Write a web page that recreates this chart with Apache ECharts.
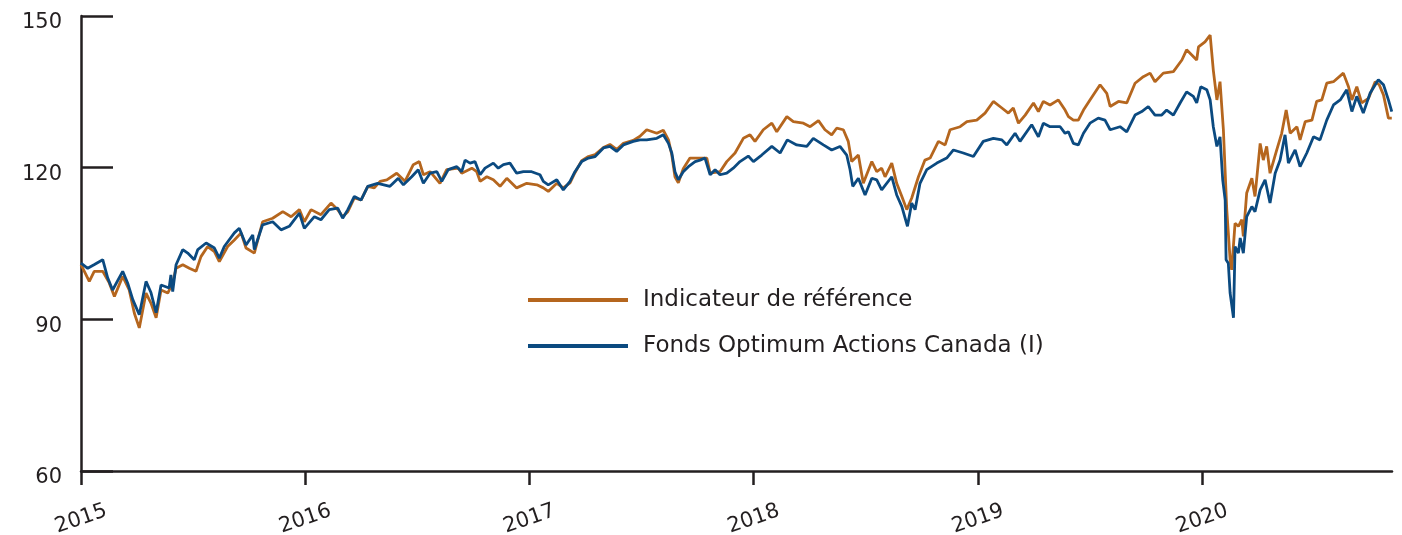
<!DOCTYPE html>
<html>
<head>
<meta charset="utf-8">
<script src="https://cdn.jsdelivr.net/npm/echarts@6/dist/echarts.min.js"></script>
<style>
  html, body { margin: 0; padding: 0; background: #fff; }
  #chart { width: 1402px; height: 535px; }
</style>
</head>
<body>
<div id="chart"></div>
<script>
// valeurs (x en années décimales)
var yearTicks = [2015, 2016, 2017, 2018, 2019, 2020]
var yTicks = [60, 90, 120, 150]

var fondsT = [2015.000, 2015.030, 2015.058, 2015.097, 2015.119, 2015.141, 2015.186, 2015.208, 2015.231, 2015.260,
  2015.290, 2015.312, 2015.335, 2015.357, 2015.393, 2015.401, 2015.409, 2015.424, 2015.454, 2015.476,
  2015.505, 2015.521, 2015.558, 2015.595, 2015.617, 2015.639, 2015.684, 2015.706, 2015.736, 2015.766,
  2015.773, 2015.810, 2015.855, 2015.892, 2015.929, 2015.974, 2015.996, 2016.041, 2016.070, 2016.107,
  2016.145, 2016.167, 2016.190, 2016.219, 2016.249, 2016.279, 2016.323, 2016.378, 2016.415, 2016.438,
  2016.475, 2016.504, 2016.527, 2016.557, 2016.587, 2016.609, 2016.638, 2016.676, 2016.698, 2016.713,
  2016.735, 2016.757, 2016.780, 2016.802, 2016.839, 2016.861, 2016.884, 2016.913, 2016.943, 2016.973,
  2017.010, 2017.047, 2017.062, 2017.084, 2017.122, 2017.151, 2017.181, 2017.203, 2017.233, 2017.263,
  2017.293, 2017.330, 2017.359, 2017.389, 2017.419, 2017.463, 2017.493, 2017.523, 2017.568, 2017.597,
  2017.620, 2017.635, 2017.649, 2017.664, 2017.686, 2017.709, 2017.739, 2017.761, 2017.783, 2017.806,
  2017.828, 2017.850, 2017.880, 2017.909, 2017.939, 2017.976, 2017.999, 2018.036, 2018.081, 2018.118,
  2018.150, 2018.192, 2018.237, 2018.266, 2018.311, 2018.348, 2018.385, 2018.415, 2018.430, 2018.442,
  2018.467, 2018.497, 2018.527, 2018.549, 2018.571, 2018.616, 2018.638, 2018.661, 2018.686, 2018.705,
  2018.720, 2018.742, 2018.772, 2018.817, 2018.861, 2018.891, 2018.935, 2018.980, 2019.024, 2019.069,
  2019.107, 2019.129, 2019.166, 2019.188, 2019.240, 2019.270, 2019.292, 2019.322, 2019.367, 2019.389,
  2019.404, 2019.426, 2019.448, 2019.471, 2019.500, 2019.537, 2019.567, 2019.590, 2019.634, 2019.664,
  2019.701, 2019.731, 2019.760, 2019.790, 2019.820, 2019.842, 2019.872, 2019.902, 2019.931, 2019.961,
  2019.976, 2019.994, 2020.021, 2020.036, 2020.050, 2020.066, 2020.080, 2020.092, 2020.103, 2020.107,
  2020.117, 2020.125, 2020.140, 2020.147, 2020.162, 2020.170, 2020.184, 2020.199, 2020.222, 2020.236,
  2020.259, 2020.281, 2020.303, 2020.326, 2020.348, 2020.370, 2020.385, 2020.415, 2020.437, 2020.467,
  2020.497, 2020.526, 2020.556, 2020.586, 2020.616, 2020.645, 2020.668, 2020.690, 2020.719, 2020.749,
  2020.786, 2020.809, 2020.831, 2020.846]
var fondsV = [101.1, 100.1, 100.8, 101.8, 98.2, 95.8, 99.5, 97.2, 93.9, 90.9,
  97.5, 95.3, 91.3, 96.8, 96.2, 98.8, 95.5, 100.8, 103.8, 103.1,
  101.8, 103.8, 105.1, 104.1, 102.1, 104.4, 107.1, 108.0, 104.7, 106.7,
  103.8, 108.7, 109.3, 107.7, 108.4, 111.0, 108.0, 110.3, 109.7, 111.7,
  112.0, 110.0, 111.7, 114.3, 113.6, 116.3, 116.9, 116.3, 117.9, 116.6,
  118.2, 119.6, 116.9, 118.9, 119.2, 117.3, 119.6, 120.2, 119.2, 121.5,
  120.9, 121.2, 118.6, 119.9, 120.9, 119.9, 120.6, 120.9, 118.9, 119.2,
  119.2, 118.6, 117.3, 116.6, 117.6, 115.6, 117.3, 119.2, 121.2, 121.9,
  122.2, 123.9, 124.2, 123.2, 124.5, 125.2, 125.5, 125.5, 125.8, 126.5,
  124.8, 122.9, 119.2, 117.6, 119.2, 120.2, 121.2, 121.5, 121.9, 118.6,
  119.6, 118.6, 118.9, 119.9, 121.2, 122.3, 121.2, 122.5, 124.2, 122.9,
  125.5, 124.5, 124.2, 125.8, 124.5, 123.5, 124.2, 122.5, 119.6, 116.3,
  117.9, 114.6, 117.9, 117.6, 115.6, 118.2, 114.6, 112.3, 108.4, 113.0,
  111.7, 116.9, 119.6, 120.9, 121.9, 123.5, 122.9, 122.2, 125.2, 125.8,
  125.5, 124.5, 126.8, 125.2, 128.5, 126.1, 128.8, 128.1, 128.1, 126.8,
  127.1, 124.8, 124.5, 126.8, 128.8, 129.8, 129.4, 127.5, 128.1, 127.1,
  130.4, 131.1, 132.1, 130.4, 130.4, 131.4, 130.4, 132.8, 135.0, 134.1,
  132.8, 136.0, 135.4, 133.4, 128.1, 124.2, 126.1, 117.6, 113.6, 101.8,
  101.1, 95.2, 90.3, 104.4, 103.1, 106.1, 103.1, 110.3, 112.3, 111.3,
  115.6, 117.6, 113.0, 118.9, 121.5, 126.5, 120.9, 123.5, 120.2, 122.9,
  126.1, 125.5, 129.4, 132.4, 133.4, 135.4, 131.1, 134.1, 130.8, 134.7,
  137.4, 136.4, 133.4, 131.1]

var indiceT = [2015.000, 2015.037, 2015.059, 2015.097, 2015.126, 2015.149, 2015.186, 2015.215, 2015.238, 2015.260,
  2015.290, 2015.312, 2015.335, 2015.357, 2015.387, 2015.409, 2015.424, 2015.454, 2015.483, 2015.513,
  2015.535, 2015.565, 2015.595, 2015.617, 2015.654, 2015.684, 2015.714, 2015.736, 2015.773, 2015.810,
  2015.855, 2015.900, 2015.937, 2015.974, 2015.996, 2016.026, 2016.070, 2016.115, 2016.145, 2016.167,
  2016.190, 2016.219, 2016.249, 2016.279, 2016.308, 2016.334, 2016.364, 2016.408, 2016.445, 2016.482,
  2016.509, 2016.527, 2016.557, 2016.601, 2016.631, 2016.683, 2016.698, 2016.743, 2016.765, 2016.780,
  2016.810, 2016.839, 2016.869, 2016.899, 2016.943, 2016.988, 2017.033, 2017.062, 2017.084, 2017.122,
  2017.151, 2017.181, 2017.203, 2017.233, 2017.263, 2017.293, 2017.330, 2017.359, 2017.389, 2017.419,
  2017.463, 2017.493, 2017.523, 2017.568, 2017.597, 2017.620, 2017.635, 2017.649, 2017.664, 2017.686,
  2017.716, 2017.761, 2017.791, 2017.806, 2017.850, 2017.880, 2017.917, 2017.954, 2017.984, 2018.006,
  2018.043, 2018.081, 2018.103, 2018.148, 2018.177, 2018.222, 2018.252, 2018.289, 2018.318, 2018.348,
  2018.370, 2018.400, 2018.422, 2018.437, 2018.467, 2018.489, 2018.527, 2018.549, 2018.571, 2018.586,
  2018.616, 2018.638, 2018.661, 2018.683, 2018.705, 2018.735, 2018.764, 2018.787, 2018.824, 2018.854,
  2018.876, 2018.921, 2018.951, 2018.995, 2019.032, 2019.069, 2019.107, 2019.136, 2019.158, 2019.181,
  2019.211, 2019.248, 2019.270, 2019.292, 2019.322, 2019.359, 2019.389, 2019.404, 2019.426, 2019.448,
  2019.471, 2019.500, 2019.545, 2019.575, 2019.590, 2019.627, 2019.664, 2019.701, 2019.738, 2019.768,
  2019.790, 2019.827, 2019.872, 2019.910, 2019.931, 2019.954, 2019.976, 2019.984, 2020.013, 2020.036,
  2020.050, 2020.066, 2020.080, 2020.095, 2020.110, 2020.125, 2020.132, 2020.147, 2020.162, 2020.177,
  2020.184, 2020.199, 2020.222, 2020.236, 2020.259, 2020.273, 2020.288, 2020.303, 2020.333, 2020.355,
  2020.375, 2020.393, 2020.423, 2020.437, 2020.460, 2020.490, 2020.511, 2020.534, 2020.556, 2020.586,
  2020.630, 2020.653, 2020.668, 2020.690, 2020.712, 2020.742, 2020.772, 2020.790, 2020.809, 2020.831,
  2020.846]
var indiceV = [100.8, 97.5, 99.5, 99.5, 97.2, 94.5, 98.5, 95.8, 91.2, 88.3,
  95.2, 93.2, 90.3, 95.8, 95.2, 97.2, 100.1, 100.8, 100.1, 99.5,
  102.4, 104.4, 103.4, 101.4, 104.4, 105.7, 107.1, 104.1, 103.1, 109.3,
  110.0, 111.3, 110.3, 111.7, 109.3, 111.7, 110.7, 113.0, 111.7, 110.3,
  111.3, 114.0, 113.6, 116.3, 116.0, 117.3, 117.6, 118.9, 117.3, 120.6,
  121.2, 118.6, 119.2, 116.9, 119.6, 119.9, 118.9, 119.9, 119.2, 117.3,
  118.2, 117.6, 116.3, 117.9, 116.0, 116.9, 116.6, 116.0, 115.3, 116.9,
  116.0, 117.0, 119.0, 121.4, 122.2, 122.6, 124.0, 124.6, 123.6, 124.8,
  125.4, 126.2, 127.5, 126.8, 127.4, 125.5, 122.5, 118.2, 117.0, 119.8,
  121.9, 121.9, 121.9, 118.9, 119.2, 121.2, 122.9, 125.8, 126.5, 125.2,
  127.5, 128.8, 127.1, 130.1, 129.1, 128.8, 128.1, 129.3, 127.5, 126.5,
  127.8, 127.5, 125.2, 121.2, 122.5, 116.9, 121.2, 119.2, 119.9, 118.2,
  120.9, 116.9, 114.3, 111.7, 114.0, 118.2, 121.5, 121.9, 125.2, 124.5,
  127.5, 128.1, 129.1, 129.4, 130.8, 133.1, 131.8, 130.8, 131.8, 128.8,
  130.4, 132.8, 131.1, 133.1, 132.4, 133.4, 131.4, 130.1, 129.4, 129.4,
  131.4, 133.4, 136.4, 134.7, 132.1, 133.1, 132.8, 136.7, 138.0, 138.7,
  137.0, 138.7, 139.0, 141.3, 143.3, 142.3, 141.3, 143.9, 144.9, 146.2,
  139.3, 133.4, 137.0, 127.5, 111.7, 101.8, 99.8, 109.0, 108.4, 109.7,
  106.4, 115.0, 117.9, 114.3, 124.8, 121.5, 124.2, 118.9, 123.5, 126.8,
  131.4, 126.8, 128.1, 125.5, 129.1, 129.4, 133.1, 133.4, 136.7, 137.0,
  138.7, 136.0, 133.4, 136.0, 132.8, 133.7, 137.0, 136.4, 134.4, 129.8,
  129.8]

var nomIndice = 'Indicateur de référence'
var nomFonds = 'Fonds Optimum Actions Canada (I)'

function pairs(t, v) {
  var out = []
  for (var i = 0; i < t.length; i++) out.push([t[i], v[i]])
  return out
}

var ink = '#231f20'
var font = 'DejaVu Sans'

var myChart = echarts.init(document.getElementById('chart'))
myChart.setOption({
  animation: false,
  backgroundColor: '#fff',
  grid: { left: 81, right: 10, top: 16, bottom: 64, containLabel: false, outerBoundsMode: 'none' },
  legend: {
    orient: 'vertical',
    left: 528,
    top: 288,
    padding: 0,
    icon: 'rect',
    itemWidth: 100,
    itemHeight: 4,
    itemGap: 22,
    data: [nomIndice, nomFonds],
    textStyle: { fontFamily: font, fontSize: 23, color: ink, lineHeight: 24, padding: [0, 0, 0, 10] }
  },
  xAxis: {
    type: 'value',
    min: 2015,
    max: 2020.847,
    splitLine: { show: false },
    axisLine: { lineStyle: { color: ink, width: 2.5 } },
    axisTick: { show: true, customValues: yearTicks, length: 14, lineStyle: { color: ink, width: 2.5 } },
    axisLabel: {
      customValues: yearTicks,
      formatter: function (v) { return String(Math.round(v)) },
      rotate: 19,
      align: 'center',
      verticalAlign: 'middle',
      margin: 48,
      fontFamily: font,
      fontSize: 21,
      color: ink
    }
  },
  yAxis: {
    type: 'value',
    min: 60,
    max: 150,
    interval: 30,
    splitLine: { show: false },
    axisLine: { show: true, lineStyle: { color: ink, width: 2.5 } },
    axisTick: { show: true, inside: true, length: 32, lineStyle: { color: ink, width: 2.5 } },
    axisLabel: { margin: 19, fontFamily: font, fontSize: 21, color: ink, verticalAlign: 'top', lineHeight: 14 }
  },
  series: [
    {
      name: nomIndice,
      type: 'line',
      data: pairs(indiceT, indiceV),
      color: '#b5661e',
      showSymbol: false,
      symbol: 'none',
      lineStyle: { width: 2.8, color: '#b5661e' }
    },
    {
      name: nomFonds,
      type: 'line',
      data: pairs(fondsT, fondsV),
      color: '#0b4a80',
      showSymbol: false,
      symbol: 'none',
      lineStyle: { width: 2.8, color: '#0b4a80' }
    }
  ]
})
</script>
</body>
</html>
